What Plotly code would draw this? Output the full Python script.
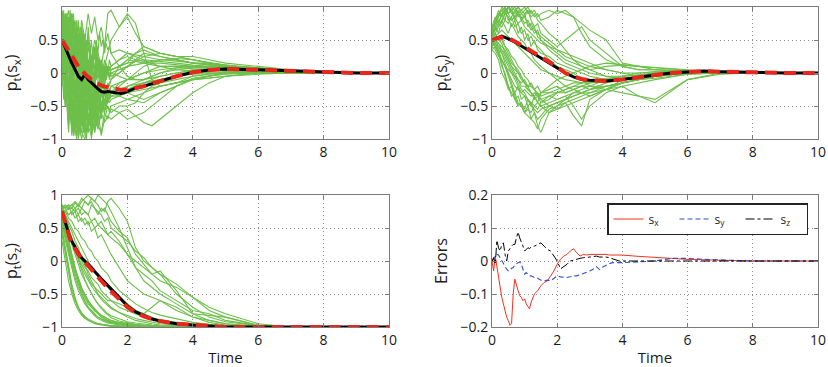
import plotly.graph_objects as go

# ---------------- data ----------------
# coarse time grid for the sample trajectories
T_green = [0, 0.1, 0.2, 0.3, 0.4, 0.5, 0.6, 0.7, 0.8, 0.9, 1.0, 1.1, 1.2, 1.3, 1.4, 1.5,
           1.75, 2, 2.25, 2.5, 2.75, 3, 3.5, 4, 4.5, 5, 6, 7, 8, 10]
# fine time grid (noisy early phase) for extra s_x trajectories
T_fine = [0, 0.05, 0.1, 0.15, 0.2, 0.25, 0.3, 0.35, 0.4, 0.45, 0.5, 0.55, 0.6, 0.65, 0.7, 0.75,
          0.8, 0.85, 0.9, 0.95, 1.0, 1.05, 1.1, 1.15, 1.2, 1.25, 1.3, 1.35, 1.4, 1.45, 1.5,
          1.75, 2, 2.5, 3, 3.5, 4, 5, 6, 8, 10]

green_sx = [
    [0.9, 0.7, 0.95, 0.5, 0.2, 0.6, 0.1, -0.3, 0.2, -0.1, -0.4, -0.2, -0.5, -0.3, -0.45, -0.3, -0.35, -0.25, -0.2, -0.15, -0.1, -0.05, 0.0, 0.05, 0.06, 0.05, 0.03, 0.01, 0.0, 0.0],
    [0.5, 0.1, -0.4, -0.8, -0.5, -0.95, -0.6, -0.9, -0.7, -0.5, -0.6, -0.4, -0.45, -0.55, -0.4, -0.35, -0.3, -0.2, -0.15, -0.1, -0.05, 0.0, 0.08, 0.1, 0.1, 0.08, 0.05, 0.02, 0.0, 0.0],
    [0.3, 0.6, 0.2, 0.5, 0.8, 0.4, 0.7, 0.3, 0.6, 0.2, 0.5, 0.3, 0.1, 0.4, 0.9, 0.95, 0.7, 0.85, 0.6, 0.4, 0.35, 0.3, 0.25, 0.2, 0.15, 0.1, 0.05, 0.02, 0.0, 0.0],
    [0.1, -0.3, -0.6, -0.2, -0.7, -0.4, -0.9, -1.0, -0.8, -0.95, -0.7, -0.85, -0.6, -0.75, -0.65, -0.7, -0.6, -0.55, -0.65, -0.75, -0.8, -0.7, -0.5, -0.3, -0.15, -0.05, 0.0, 0.0, 0.0, 0.0],
    [0.7, 0.9, 0.4, 0.8, 0.3, -0.2, 0.3, -0.4, 0.0, -0.6, -0.2, -0.7, -0.3, -0.5, -0.2, -0.1, 0.1, 0.2, 0.3, 0.35, 0.3, 0.25, 0.2, 0.15, 0.15, 0.12, 0.08, 0.03, 0.01, 0.0],
    [0.6, 0.2, 0.7, -0.1, 0.5, -0.5, 0.1, -0.8, -0.3, -1.0, -0.5, -0.8, -0.9, -0.6, -0.7, -0.5, -0.45, -0.4, -0.35, -0.3, -0.25, -0.2, -0.15, -0.1, -0.08, -0.05, -0.02, 0.0, 0.0, 0.0],
    [0.2, -0.2, 0.3, -0.5, -0.1, -0.7, -0.3, 0.1, -0.5, 0.2, -0.2, 0.1, -0.1, 0.2, 0.0, 0.1, 0.2, 0.25, 0.2, 0.18, 0.15, 0.15, 0.12, 0.1, 0.08, 0.06, 0.03, 0.01, 0.0, 0.0],
    [0.8, 0.5, 0.0, 0.4, -0.4, -0.1, -0.6, -0.2, -0.9, -0.4, -0.7, -0.3, -0.6, -0.25, -0.35, -0.3, -0.2, -0.1, 0.0, 0.1, 0.15, 0.2, 0.22, 0.2, 0.15, 0.12, 0.06, 0.03, 0.01, 0.0],
    [0.4, 0.8, 0.6, 0.9, 0.7, 0.3, 0.8, 0.5, 0.9, 0.6, 0.85, 0.5, 0.7, 0.4, 0.6, 0.3, 0.1, -0.05, -0.1, -0.1, -0.05, 0.0, 0.05, 0.08, 0.1, 0.1, 0.08, 0.04, 0.01, 0.0],
    [0.0, -0.5, -0.2, -0.9, -0.6, -0.3, -0.8, -0.5, -0.2, -0.7, -0.9, -0.6, -0.95, -0.7, -0.5, -0.6, -0.5, -0.5, -0.45, -0.3, -0.2, -0.15, -0.1, -0.05, -0.02, 0.0, 0.0, 0.0, 0.0, 0.0],
    [0.95, 0.6, 0.3, 0.0, 0.35, 0.1, -0.3, 0.0, 0.4, 0.1, -0.1, 0.2, 0.0, 0.1, 0.3, 0.5, 0.7, 0.9, 0.75, 0.3, -0.1, -0.2, -0.15, -0.1, -0.05, 0.0, 0.02, 0.01, 0.0, 0.0],
    [0.5, 0.3, -0.1, -0.4, -0.3, -0.6, -0.2, -0.5, -0.1, -0.4, -0.3, -0.2, -0.35, -0.25, -0.3, -0.2, -0.25, -0.3, -0.35, -0.4, -0.35, -0.3, -0.2, -0.1, -0.05, -0.02, 0.0, 0.0, 0.0, 0.0],
    [0.6, 0.4, 0.5, 0.2, 0.6, 0.3, 0.7, 0.2, 0.5, 0.0, 0.3, -0.1, 0.2, 0.0, 0.1, 0.05, 0.1, 0.15, 0.3, 0.4, 0.35, 0.3, 0.25, 0.25, 0.2, 0.15, 0.1, 0.05, 0.02, 0.0],
    [0.3, 0.0, -0.3, -0.6, -0.9, -0.7, -1.0, -0.75, -0.5, -0.8, -0.55, -0.4, -0.5, -0.3, -0.4, -0.3, -0.15, -0.1, -0.05, 0.0, 0.05, 0.1, 0.1, 0.1, 0.08, 0.06, 0.04, 0.02, 0.0, 0.0],
]

green_sx_fine = [
    [0.9, 0.6, 0.8, 0.3, 0.7, 0.1, 0.5, -0.2, 0.3, -0.5, 0.0, -0.7, -0.3, -0.9, -0.5, -1.0, -0.6, -0.8, -0.4, -0.7, -0.3, -0.6, -0.2, -0.5, -0.3, -0.4, -0.2, -0.35, -0.25, -0.3, -0.2,
     -0.15, -0.1, 0.0, 0.05, 0.08, 0.06, 0.04, 0.02, 0.0, 0.0],
    [0.2, 0.5, -0.1, 0.4, -0.4, 0.2, -0.6, 0.0, -0.8, -0.3, -1.0, -0.5, -0.7, -0.2, -0.6, 0.0, -0.4, 0.2, -0.2, 0.3, 0.0, 0.4, 0.1, 0.2, -0.1, 0.1, -0.2, 0.0, 0.1, -0.05, 0.05,
     0.1, 0.15, 0.2, 0.18, 0.15, 0.12, 0.08, 0.04, 0.01, 0.0],
    [0.7, 0.95, 0.5, 0.9, 0.6, 0.95, 0.4, 0.8, 0.2, 0.6, 0.0, 0.5, -0.2, 0.3, -0.4, 0.1, -0.5, -0.1, -0.6, -0.3, -0.7, -0.4, -0.55, -0.35, -0.5, -0.4, -0.3, -0.45, -0.35, -0.4, -0.3,
     -0.3, -0.25, -0.15, -0.1, -0.05, 0.0, 0.02, 0.01, 0.0, 0.0],
    [0.4, 0.0, 0.6, -0.3, 0.3, -0.6, 0.1, -0.9, -0.2, -0.7, 0.2, -0.4, 0.5, -0.1, 0.6, 0.2, 0.7, 0.3, 0.5, 0.1, 0.4, 0.0, 0.3, -0.1, 0.2, -0.2, 0.1, -0.1, 0.0, -0.05, 0.0,
     0.05, 0.1, 0.15, 0.2, 0.18, 0.15, 0.1, 0.06, 0.02, 0.0],
    [0.6, 0.3, 0.0, -0.4, -0.1, -0.7, -0.3, -0.95, -0.6, -0.8, -0.4, -0.9, -0.5, -0.3, -0.7, -0.4, -0.8, -0.5, -0.9, -0.6, -0.7, -0.45, -0.6, -0.4, -0.5, -0.3, -0.45, -0.3, -0.35, -0.25, -0.3,
     -0.25, -0.2, -0.15, -0.1, -0.05, -0.02, 0.0, 0.0, 0.0, 0.0],
    [0.8, 0.5, 0.9, 0.6, 0.85, 0.4, 0.7, 0.2, 0.6, 0.3, 0.8, 0.4, 0.6, 0.1, 0.4, -0.1, 0.2, -0.3, 0.0, -0.2, 0.1, -0.1, 0.2, 0.0, 0.15, -0.05, 0.1, 0.0, 0.05, -0.1, 0.0,
     -0.05, -0.1, -0.1, -0.05, 0.0, 0.03, 0.05, 0.04, 0.02, 0.0],
    [0.1, -0.4, -0.1, -0.6, -0.9, -0.5, -0.8, -0.4, -0.95, -0.7, -0.5, -0.85, -0.6, -0.9, -0.7, -0.55, -0.75, -0.6, -0.8, -0.65, -0.55, -0.7, -0.5, -0.6, -0.45, -0.55, -0.4, -0.5, -0.45, -0.4, -0.35,
     -0.35, -0.4, -0.45, -0.3, -0.2, -0.1, -0.05, 0.0, 0.0, 0.0],
    [0.5, 0.8, 0.3, 0.0, 0.5, 0.2, -0.2, 0.3, 0.0, 0.4, 0.1, 0.6, 0.2, 0.5, 0.0, 0.3, -0.2, 0.1, -0.4, -0.1, -0.5, -0.2, -0.4, -0.1, -0.3, 0.0, -0.2, 0.1, 0.0, 0.2, 0.1,
     0.2, 0.3, 0.25, 0.2, 0.2, 0.15, 0.1, 0.05, 0.02, 0.0],
    [0.3, 0.7, 0.2, 0.9, 0.4, -0.1, 0.5, 0.0, -0.5, 0.1, -0.3, 0.3, -0.6, -0.1, -0.8, -0.4, -0.9, -0.6, -0.3, -0.7, -0.5, -0.8, -0.6, -0.7, -0.5, -0.6, -0.45, -0.55, -0.5, -0.6, -0.55,
     -0.6, -0.7, -0.6, -0.4, -0.2, -0.08, 0.0, 0.0, 0.0, 0.0],
    [0.85, 0.5, 0.1, 0.6, 0.2, 0.7, 0.3, 0.9, 0.5, 0.8, 0.4, 0.7, 0.3, 0.6, 0.2, 0.5, 0.0, 0.4, -0.2, 0.2, -0.1, 0.3, 0.0, 0.2, -0.15, 0.1, -0.1, 0.15, 0.0, 0.1, -0.05,
     0.0, 0.1, 0.3, 0.25, 0.2, 0.15, 0.1, 0.05, 0.01, 0.0],
    [-0.2, 0.3, -0.5, 0.0, -0.8, -0.3, -0.95, -0.5, -0.2, -0.7, -0.4, -0.95, -0.6, -0.8, -0.3, -0.7, -0.2, -0.6, -0.1, -0.5, 0.0, -0.4, -0.1, -0.3, 0.1, -0.2, 0.0, -0.1, 0.1, -0.05, 0.05,
     0.1, 0.2, 0.15, 0.1, 0.1, 0.08, 0.06, 0.03, 0.0, 0.0],
    [0.6, 0.9, 0.7, 0.4, 0.8, 0.5, 0.9, 0.6, 0.3, 0.7, 0.2, 0.5, 0.0, 0.4, -0.3, 0.1, -0.5, -0.2, -0.7, -0.4, -0.9, -0.6, -0.8, -0.5, -0.7, -0.4, -0.6, -0.5, -0.4, -0.45, -0.4,
     -0.35, -0.3, -0.25, -0.2, -0.15, -0.05, 0.02, 0.02, 0.0, 0.0],
    [0.45, 0.1, -0.3, 0.2, -0.6, -0.2, -0.9, -0.4, -0.7, -1.0, -0.6, -0.3, -0.8, -0.5, -0.95, -0.7, -0.4, -0.6, -0.3, -0.5, -0.2, -0.4, -0.15, -0.3, -0.1, -0.25, -0.2, -0.3, -0.15, -0.2, -0.1,
     0.0, 0.1, 0.25, 0.3, 0.25, 0.2, 0.12, 0.06, 0.01, 0.0],
    [0.75, 0.4, 0.8, 0.5, 0.1, 0.5, -0.2, 0.2, -0.4, 0.0, -0.6, -0.2, -0.5, 0.0, -0.3, 0.2, -0.1, 0.3, 0.1, 0.4, 0.2, 0.5, 0.3, 0.6, 0.4, 0.5, 0.3, 0.45, 0.35, 0.4, 0.3,
     0.35, 0.3, 0.2, 0.1, 0.05, 0.03, 0.05, 0.03, 0.01, 0.0],
]

green_sy = [
    [0.5, 0.6, 0.7, 0.8, 0.9, 1.0, 0.95, 1.0, 0.9, 0.95, 1.0, 0.9, 0.95, 0.85, 0.9, 0.8, 0.85, 0.95, 0.9, 0.85, 0.6, 0.4, 0.2, 0.1, 0.05, 0.05, 0.03, 0.01, 0.0, 0.0],
    [0.5, 0.4, 0.3, 0.1, 0.0, -0.2, -0.3, -0.4, -0.5, -0.45, -0.6, -0.5, -0.7, -0.6, -0.8, -0.9, -0.6, -0.5, -0.4, -0.3, -0.25, -0.2, -0.1, -0.05, 0.0, 0.02, 0.02, 0.01, 0.0, 0.0],
    [0.6, 0.7, 0.8, 0.75, 0.9, 0.85, 0.7, 0.8, 0.6, 0.7, 0.5, 0.6, 0.4, 0.5, 0.35, 0.3, 0.25, 0.15, 0.1, 0.05, 0.0, -0.05, -0.1, -0.1, -0.08, -0.05, 0.0, 0.01, 0.0, 0.0],
    [0.4, 0.5, 0.4, 0.3, 0.2, 0.1, 0.0, -0.1, -0.2, -0.3, -0.35, -0.4, -0.45, -0.5, -0.45, -0.5, -0.45, -0.4, -0.35, -0.5, -0.7, -0.5, -0.3, -0.2, -0.35, -0.4, -0.1, 0.0, 0.0, 0.0],
    [0.55, 0.65, 0.75, 0.9, 0.8, 1.0, 0.9, 0.85, 0.95, 0.8, 0.9, 0.7, 0.75, 0.65, 0.6, 0.55, 0.45, 0.35, 0.25, 0.2, 0.15, 0.1, 0.05, 0.0, 0.0, 0.02, 0.03, 0.02, 0.0, 0.0],
    [0.5, 0.45, 0.35, 0.2, 0.1, 0.0, -0.1, -0.2, -0.25, -0.3, -0.25, -0.3, -0.35, -0.3, -0.35, -0.3, -0.3, -0.25, -0.2, -0.15, -0.15, -0.1, -0.08, -0.05, -0.03, 0.0, 0.02, 0.01, 0.0, 0.0],
    [0.6, 0.7, 0.85, 1.0, 0.95, 0.9, 1.0, 0.95, 0.85, 0.9, 0.95, 1.0, 0.9, 0.95, 0.85, 0.9, 0.95, 0.9, 0.95, 0.85, 0.75, 0.65, 0.5, 0.15, 0.1, 0.05, 0.03, 0.01, 0.0, 0.0],
    [0.45, 0.4, 0.3, 0.15, -0.05, -0.2, -0.35, -0.3, -0.45, -0.5, -0.6, -0.55, -0.6, -0.5, -0.55, -0.45, -0.4, -0.3, -0.25, -0.2, -0.15, -0.12, -0.1, -0.08, -0.05, -0.03, 0.0, 0.0, 0.0, 0.0],
    [0.5, 0.55, 0.6, 0.65, 0.6, 0.55, 0.5, 0.45, 0.4, 0.35, 0.3, 0.25, 0.2, 0.15, 0.1, 0.05, 0.0, -0.05, -0.1, -0.12, -0.15, -0.15, -0.12, -0.1, -0.08, -0.05, 0.0, 0.01, 0.0, 0.0],
    [0.65, 0.8, 0.9, 0.85, 0.95, 0.8, 0.85, 0.7, 0.75, 0.6, 0.65, 0.5, 0.55, 0.45, 0.4, 0.35, 0.2, 0.1, 0.05, 0.0, -0.1, -0.2, -0.2, -0.15, -0.1, -0.05, 0.0, 0.01, 0.0, 0.0],
    [0.35, 0.3, 0.2, 0.0, -0.1, -0.25, -0.2, -0.4, -0.35, -0.5, -0.6, -0.65, -0.7, -0.75, -0.85, -0.7, -0.55, -0.5, -0.45, -0.65, -0.8, -0.4, -0.25, -0.1, -0.05, 0.0, 0.02, 0.01, 0.0, 0.0],
    [0.5, 0.6, 0.5, 0.45, 0.3, 0.2, 0.1, 0.05, 0.0, -0.1, -0.15, -0.2, -0.2, -0.25, -0.3, -0.35, -0.3, -0.3, -0.3, -0.25, -0.2, -0.2, -0.25, -0.3, -0.35, -0.45, -0.1, -0.02, 0.0, 0.0],
    [0.7, 0.75, 0.9, 0.95, 1.0, 0.9, 0.95, 0.8, 0.9, 0.85, 0.75, 0.8, 0.7, 0.6, 0.65, 0.5, 0.4, 0.3, 0.2, 0.15, 0.1, 0.05, 0.1, 0.12, 0.1, 0.08, 0.05, 0.02, 0.0, 0.0],
    [0.4, 0.35, 0.25, 0.2, 0.1, 0.05, 0.0, -0.05, -0.1, -0.2, -0.2, -0.25, -0.3, -0.4, -0.35, -0.45, -0.35, -0.4, -0.35, -0.3, -0.3, -0.35, -0.25, -0.15, -0.1, -0.05, 0.0, 0.0, 0.0, 0.0],
    [0.55, 0.7, 0.6, 0.8, 0.7, 0.6, 0.75, 0.65, 0.55, 0.5, 0.45, 0.35, 0.3, 0.2, 0.15, 0.1, 0.0, -0.1, -0.2, -0.25, -0.3, -0.3, -0.25, -0.15, -0.1, -0.05, 0.0, 0.01, 0.0, 0.0],
    [0.45, 0.5, 0.45, 0.35, 0.25, 0.15, 0.05, -0.05, -0.15, -0.25, -0.3, -0.4, -0.5, -0.55, -0.6, -0.55, -0.5, -0.45, -0.4, -0.35, -0.3, -0.25, -0.15, -0.1, -0.05, -0.02, 0.01, 0.01, 0.0, 0.0],
    [0.6, 0.8, 0.95, 0.85, 1.0, 0.9, 0.8, 0.85, 0.75, 0.8, 0.7, 0.65, 0.6, 0.55, 0.5, 0.45, 0.4, 0.35, 0.3, 0.25, 0.2, 0.15, 0.05, 0.0, -0.05, -0.03, 0.0, 0.01, 0.0, 0.0],
    [0.5, 0.45, 0.4, 0.35, 0.3, 0.2, 0.1, 0.0, -0.1, -0.15, -0.1, -0.2, -0.15, -0.25, -0.2, -0.3, -0.25, -0.2, -0.3, -0.25, -0.2, -0.25, -0.2, -0.15, -0.1, -0.08, -0.02, 0.0, 0.0, 0.0],
    [0.7, 0.85, 0.75, 0.9, 0.95, 1.0, 0.95, 0.9, 1.0, 0.9, 0.85, 0.95, 0.8, 0.7, 0.75, 0.6, 0.5, 0.4, 0.5, 0.6, 0.7, 0.5, 0.3, 0.1, 0.05, 0.05, 0.03, 0.01, 0.0, 0.0],
    [0.4, 0.45, 0.35, 0.3, 0.15, 0.0, -0.15, -0.3, -0.2, -0.4, -0.35, -0.5, -0.45, -0.6, -0.7, -0.65, -0.5, -0.55, -0.45, -0.4, -0.35, -0.3, -0.2, -0.15, -0.1, -0.05, 0.0, 0.0, 0.0, 0.0],
    [0.55, 0.6, 0.5, 0.55, 0.4, 0.35, 0.25, 0.2, 0.1, 0.05, -0.05, -0.1, -0.2, -0.25, -0.35, -0.4, -0.5, -0.45, -0.4, -0.35, -0.3, -0.25, -0.2, -0.15, -0.1, -0.05, 0.0, 0.0, 0.0, 0.0],
    [0.65, 0.75, 0.85, 0.95, 0.9, 1.0, 0.95, 0.85, 0.9, 0.8, 0.85, 0.75, 0.65, 0.7, 0.55, 0.5, 0.35, 0.25, 0.15, 0.1, 0.05, 0.0, -0.05, -0.05, -0.03, 0.0, 0.02, 0.01, 0.0, 0.0],
    [0.45, 0.5, 0.55, 0.5, 0.4, 0.3, 0.2, 0.1, 0.05, -0.05, -0.15, -0.2, -0.3, -0.35, -0.45, -0.5, -0.6, -0.55, -0.5, -0.45, -0.4, -0.35, -0.25, -0.2, -0.15, -0.1, -0.02, 0.0, 0.0, 0.0],
    [0.6, 0.65, 0.75, 0.7, 0.8, 0.75, 0.85, 0.95, 1.0, 0.95, 0.9, 0.95, 0.85, 0.9, 0.8, 0.75, 0.6, 0.5, 0.35, 0.2, 0.1, 0.05, -0.05, -0.08, -0.05, -0.02, 0.01, 0.01, 0.0, 0.0],
    [0.5, 0.5, 0.45, 0.4, 0.35, 0.25, 0.15, 0.1, 0.0, -0.05, -0.15, -0.25, -0.3, -0.35, -0.3, -0.4, -0.35, -0.3, -0.25, -0.2, -0.2, -0.15, -0.12, -0.1, -0.08, -0.05, 0.0, 0.0, 0.0, 0.0],
    [0.35, 0.4, 0.3, 0.2, 0.1, -0.05, -0.2, -0.35, -0.5, -0.45, -0.55, -0.4, -0.5, -0.35, -0.45, -0.3, -0.2, -0.1, -0.05, 0.0, 0.05, 0.1, 0.15, 0.12, 0.1, 0.08, 0.04, 0.02, 0.0, 0.0],
]

green_sz = [
    [0.8, 0.85, 0.8, 0.85, 0.8, 0.85, 0.8, 0.9, 0.85, 0.95, 0.9, 1.0, 0.95, 0.9, 0.85, 0.75, 0.5, 0.2, -0.1, -0.3, -0.4, -0.5, -0.65, -0.8, -0.9, -0.95, -1.0, -1.0, -1.0, -1.0],
    [0.7, 0.5, 0.3, 0.1, -0.1, -0.3, -0.45, -0.55, -0.65, -0.7, -0.75, -0.8, -0.85, -0.88, -0.9, -0.92, -0.95, -0.97, -0.98, -0.99, -1.0, -1.0, -1.0, -1.0, -1.0, -1.0, -1.0, -1.0, -1.0, -1.0],
    [0.8, 0.75, 0.7, 0.75, 0.8, 0.7, 0.8, 0.75, 0.7, 0.85, 0.8, 0.7, 0.8, 0.75, 0.9, 0.95, 0.8, 0.6, 0.2, 0.0, -0.1, -0.2, -0.5, -0.7, -0.85, -0.92, -0.98, -1.0, -1.0, -1.0],
    [0.6, 0.4, 0.2, 0.0, -0.2, -0.35, -0.5, -0.6, -0.7, -0.75, -0.8, -0.85, -0.88, -0.9, -0.92, -0.93, -0.95, -0.97, -0.98, -0.99, -1.0, -1.0, -1.0, -1.0, -1.0, -1.0, -1.0, -1.0, -1.0, -1.0],
    [0.75, 0.7, 0.6, 0.5, 0.4, 0.3, 0.2, 0.1, 0.0, -0.1, -0.15, -0.2, -0.3, -0.35, -0.4, -0.45, -0.55, -0.65, -0.75, -0.8, -0.85, -0.9, -0.95, -0.97, -0.99, -1.0, -1.0, -1.0, -1.0, -1.0],
    [0.85, 0.8, 0.7, 0.75, 0.65, 0.7, 0.6, 0.65, 0.55, 0.6, 0.5, 0.55, 0.5, 0.45, 0.4, 0.35, 0.25, 0.1, 0.0, -0.1, -0.2, -0.15, -0.45, -0.8, -0.82, -0.85, -0.98, -1.0, -1.0, -1.0],
    [0.5, 0.2, -0.1, -0.35, -0.55, -0.7, -0.8, -0.85, -0.9, -0.92, -0.94, -0.95, -0.96, -0.97, -0.97, -0.98, -0.98, -0.99, -1.0, -1.0, -1.0, -1.0, -1.0, -1.0, -1.0, -1.0, -1.0, -1.0, -1.0, -1.0],
    [0.8, 0.7, 0.55, 0.45, 0.3, 0.2, 0.05, -0.05, -0.2, -0.3, -0.4, -0.5, -0.55, -0.6, -0.65, -0.7, -0.78, -0.85, -0.9, -0.93, -0.95, -0.97, -0.98, -0.99, -1.0, -1.0, -1.0, -1.0, -1.0, -1.0],
    [0.7, 0.75, 0.8, 0.85, 0.9, 0.85, 0.95, 0.9, 0.85, 0.9, 0.8, 0.75, 0.7, 0.6, 0.65, 0.5, 0.4, 0.3, 0.15, 0.05, -0.1, -0.2, -0.35, -0.55, -0.75, -0.85, -0.97, -1.0, -1.0, -1.0],
    [0.4, 0.1, -0.2, -0.45, -0.6, -0.72, -0.8, -0.86, -0.9, -0.93, -0.95, -0.96, -0.97, -0.98, -0.98, -0.99, -0.99, -1.0, -1.0, -1.0, -1.0, -1.0, -1.0, -1.0, -1.0, -1.0, -1.0, -1.0, -1.0, -1.0],
    [0.65, 0.55, 0.45, 0.3, 0.2, 0.05, -0.05, -0.15, -0.25, -0.35, -0.4, -0.45, -0.5, -0.55, -0.6, -0.6, -0.65, -0.7, -0.75, -0.8, -0.7, -0.6, -0.7, -0.85, -0.9, -0.95, -0.99, -1.0, -1.0, -1.0],
    [0.85, 0.8, 0.85, 0.7, 0.75, 0.6, 0.65, 0.55, 0.6, 0.45, 0.5, 0.35, 0.4, 0.3, 0.2, 0.1, -0.1, -0.3, -0.4, -0.5, -0.55, -0.6, -0.75, -0.85, -0.93, -0.97, -1.0, -1.0, -1.0, -1.0],
    [0.55, 0.3, 0.1, -0.1, -0.3, -0.45, -0.55, -0.65, -0.72, -0.78, -0.83, -0.87, -0.9, -0.92, -0.94, -0.95, -0.97, -0.98, -0.99, -1.0, -1.0, -1.0, -1.0, -1.0, -1.0, -1.0, -1.0, -1.0, -1.0, -1.0],
    [0.8, 0.6, 0.5, 0.3, 0.25, 0.1, 0.0, -0.1, -0.15, -0.25, -0.3, -0.35, -0.45, -0.5, -0.55, -0.6, -0.7, -0.75, -0.8, -0.85, -0.88, -0.9, -0.93, -0.96, -0.98, -0.99, -1.0, -1.0, -1.0, -1.0],
    [0.8, 0.55, 0.3, 0.1, -0.1, -0.25, -0.4, -0.5, -0.6, -0.67, -0.73, -0.78, -0.82, -0.85, -0.88, -0.9, -0.93, -0.95, -0.97, -0.98, -0.99, -1.0, -1.0, -1.0, -1.0, -1.0, -1.0, -1.0, -1.0, -1.0],
    [0.75, 0.6, 0.4, 0.25, 0.1, -0.05, -0.2, -0.3, -0.4, -0.5, -0.58, -0.65, -0.7, -0.75, -0.8, -0.83, -0.88, -0.92, -0.94, -0.96, -0.97, -0.98, -0.99, -1.0, -1.0, -1.0, -1.0, -1.0, -1.0, -1.0],
    [0.3, 0.0, -0.3, -0.5, -0.65, -0.75, -0.82, -0.87, -0.9, -0.92, -0.94, -0.95, -0.96, -0.97, -0.98, -0.98, -0.99, -0.99, -1.0, -1.0, -1.0, -1.0, -1.0, -1.0, -1.0, -1.0, -1.0, -1.0, -1.0, -1.0],
    [0.85, 0.7, 0.5, 0.35, 0.2, 0.05, -0.1, -0.2, -0.3, -0.38, -0.45, -0.52, -0.58, -0.63, -0.68, -0.72, -0.78, -0.83, -0.87, -0.9, -0.93, -0.95, -0.97, -0.98, -0.99, -1.0, -1.0, -1.0, -1.0, -1.0],
    [0.8, 0.82, 0.78, 0.8, 0.75, 0.8, 0.7, 0.75, 0.7, 0.6, 0.65, 0.55, 0.6, 0.5, 0.4, 0.45, 0.3, 0.1, -0.1, -0.2, -0.3, -0.45, -0.6, -0.75, -0.8, -0.9, -0.98, -1.0, -1.0, -1.0],
    [0.65, 0.4, 0.2, 0.0, -0.15, -0.3, -0.42, -0.52, -0.6, -0.67, -0.73, -0.78, -0.82, -0.85, -0.88, -0.9, -0.94, -0.96, -0.97, -0.98, -0.99, -1.0, -1.0, -1.0, -1.0, -1.0, -1.0, -1.0, -1.0, -1.0],
    [0.7, 0.45, 0.25, 0.05, -0.15, -0.3, -0.45, -0.55, -0.63, -0.7, -0.76, -0.8, -0.84, -0.87, -0.9, -0.92, -0.95, -0.97, -0.98, -0.99, -1.0, -1.0, -1.0, -1.0, -1.0, -1.0, -1.0, -1.0, -1.0, -1.0],
    [0.85, 0.65, 0.45, 0.3, 0.15, 0.0, -0.15, -0.28, -0.4, -0.5, -0.58, -0.65, -0.72, -0.77, -0.82, -0.86, -0.91, -0.94, -0.96, -0.97, -0.98, -0.99, -1.0, -1.0, -1.0, -1.0, -1.0, -1.0, -1.0, -1.0],
    [0.45, 0.15, -0.15, -0.4, -0.58, -0.7, -0.78, -0.84, -0.88, -0.91, -0.93, -0.95, -0.96, -0.97, -0.98, -0.98, -0.99, -1.0, -1.0, -1.0, -1.0, -1.0, -1.0, -1.0, -1.0, -1.0, -1.0, -1.0, -1.0, -1.0],
    [0.8, 0.75, 0.65, 0.6, 0.5, 0.45, 0.35, 0.3, 0.2, 0.15, 0.05, 0.0, -0.1, -0.15, -0.2, -0.3, -0.45, -0.55, -0.65, -0.72, -0.78, -0.82, -0.88, -0.93, -0.96, -0.98, -1.0, -1.0, -1.0, -1.0],
    [0.6, 0.35, 0.15, -0.05, -0.25, -0.4, -0.52, -0.62, -0.7, -0.76, -0.81, -0.85, -0.88, -0.91, -0.93, -0.94, -0.96, -0.98, -0.99, -1.0, -1.0, -1.0, -1.0, -1.0, -1.0, -1.0, -1.0, -1.0, -1.0, -1.0],
    [0.82, 0.8, 0.85, 0.8, 0.88, 0.82, 0.9, 0.95, 1.0, 0.95, 0.9, 0.85, 0.75, 0.8, 0.7, 0.6, 0.45, 0.35, 0.1, -0.05, -0.2, -0.3, -0.4, -0.55, -0.7, -0.8, -0.95, -1.0, -1.0, -1.0],
]

# empirical mean (black)
T_mean = [0, 0.1, 0.2, 0.3, 0.4, 0.5, 0.6, 0.7, 0.8, 0.9, 1.0, 1.1, 1.2, 1.3, 1.4, 1.5, 1.6, 1.7, 1.8, 1.9, 2.0,
          2.25, 2.5, 2.75, 3, 3.5, 4, 4.5, 5, 5.5, 6, 6.5, 7, 7.5, 8, 9, 10]
mean_sx = [0.5, 0.38, 0.26, 0.15, 0.05, -0.05, -0.1, -0.02, -0.1, -0.15, -0.2, -0.24, -0.28, -0.29, -0.28, -0.29, -0.3, -0.3, -0.31, -0.3, -0.28,
           -0.23, -0.2, -0.16, -0.12, -0.05, 0.01, 0.045, 0.06, 0.06, 0.05, 0.04, 0.03, 0.02, 0.01, 0.0, 0.0]
mean_sy = [0.5, 0.52, 0.55, 0.56, 0.54, 0.52, 0.49, 0.47, 0.44, 0.41, 0.38, 0.35, 0.31, 0.28, 0.26, 0.23, 0.19, 0.16, 0.13, 0.1, 0.07,
           0.0, -0.06, -0.1, -0.11, -0.12, -0.1, -0.06, -0.03, 0.0, 0.02, 0.03, 0.02, 0.02, 0.01, 0.0, 0.0]
mean_sz = [0.75, 0.58, 0.42, 0.3, 0.2, 0.12, 0.05, 0.0, -0.04, -0.1, -0.16, -0.22, -0.27, -0.32, -0.37, -0.42, -0.47, -0.52, -0.58, -0.63, -0.68,
           -0.77, -0.83, -0.88, -0.91, -0.95, -0.97, -0.99, -1.0, -1.0, -1.0, -1.0, -1.0, -1.0, -1.0, -1.0, -1.0]

# exact solution (red dashed)
T_exact = [0, 0.25, 0.5, 0.75, 1, 1.25, 1.5, 1.75, 2, 2.25, 2.5, 2.75, 3, 3.5, 4, 4.5, 5, 5.5, 6, 6.5, 7, 7.5, 8, 9, 10]
exact_sx = [0.5, 0.3, 0.1, -0.04, -0.14, -0.2, -0.23, -0.25, -0.255, -0.235, -0.2, -0.16, -0.12, -0.05, 0.01, 0.045, 0.06, 0.06, 0.05, 0.04, 0.03, 0.02, 0.01, 0.0, 0.0]
exact_sy = [0.5, 0.54, 0.53, 0.47, 0.4, 0.32, 0.25, 0.17, 0.09, 0.0, -0.05, -0.09, -0.11, -0.12, -0.1, -0.06, -0.03, 0.0, 0.02, 0.03, 0.02, 0.02, 0.01, 0.0, 0.0]
exact_sz = [0.75, 0.33, 0.1, -0.05, -0.2, -0.33, -0.46, -0.58, -0.7, -0.78, -0.84, -0.88, -0.91, -0.95, -0.97, -0.99, -1.0, -1.0, -1.0, -1.0, -1.0, -1.0, -1.0, -1.0, -1.0]

# errors
T_err = [0, 0.05, 0.1, 0.15, 0.2, 0.25, 0.3, 0.35, 0.4, 0.45, 0.5, 0.55, 0.6, 0.65, 0.7, 0.75, 0.8, 0.85, 0.9, 0.95, 1.0, 1.05, 1.1, 1.15, 1.2,
         1.3, 1.4, 1.5, 1.6, 1.7, 1.8, 1.9, 2.0, 2.1, 2.2, 2.3, 2.4, 2.5, 2.6, 2.7, 2.8, 2.9, 3.0, 3.1, 3.2, 3.3, 3.4, 3.5, 3.6, 3.7, 3.8, 3.9, 4.0,
         4.5, 5, 5.5, 6, 6.5, 7, 7.5, 8, 8.5, 9, 9.5, 10]
err_sx = [0.0, -0.03, 0.015, -0.02, -0.05, -0.08, -0.11, -0.13, -0.155, -0.17, -0.18, -0.195, -0.19, -0.1, -0.055, -0.075, -0.09, -0.105, -0.11, -0.12, -0.115, -0.13, -0.14, -0.145, -0.125,
          -0.1, -0.09, -0.075, -0.065, -0.06, -0.045, -0.03, -0.01, 0.005, 0.015, 0.02, 0.03, 0.037, 0.025, 0.015, 0.02, 0.018, 0.02, 0.02, 0.022, 0.02, 0.022, 0.02, 0.018, 0.018, 0.02, 0.018, 0.018,
          0.014, 0.01, 0.008, 0.005, 0.003, 0.002, 0.001, 0.0, 0.0, 0.0, 0.0, 0.0]
err_sy = [0.0, 0.01, 0.015, 0.02, 0.018, 0.01, 0.0, -0.008, -0.015, -0.025, -0.03, -0.028, -0.022, -0.02, -0.012, -0.008, -0.005, -0.003, -0.01, -0.025, -0.04, -0.035, -0.04, -0.045, -0.045,
          -0.05, -0.052, -0.058, -0.06, -0.058, -0.06, -0.052, -0.045, -0.048, -0.05, -0.05, -0.048, -0.045, -0.045, -0.042, -0.038, -0.034, -0.03, -0.025, -0.017, -0.026, -0.018, -0.012, -0.008, -0.005, -0.006, -0.005, -0.005,
          -0.002, 0.0, 0.008, 0.008, 0.005, 0.003, 0.002, 0.0, 0.0, 0.0, 0.0, 0.0]
err_sz = [0.0, 0.01, -0.01, 0.063, 0.04, 0.03, 0.05, 0.055, 0.02, 0.0, 0.03, 0.04, 0.045, 0.05, 0.05, 0.07, 0.088, 0.07, 0.06, 0.045, 0.03, 0.035, 0.04, 0.038, 0.042,
          0.045, 0.05, 0.055, 0.045, 0.035, 0.03, 0.015, 0.0, -0.024, -0.018, -0.01, 0.0, 0.003, 0.007, 0.008, 0.01, 0.01, 0.012, 0.013, 0.015, 0.012, 0.013, 0.012, 0.01, 0.006, 0.002, 0.0, 0.0,
          0.0, 0.0, 0.0, 0.0, 0.0, 0.0, 0.0, 0.0, 0.0, 0.0, 0.0, 0.0]

y_labels = ["p<sub>t</sub>(s<sub>x</sub>)", "p<sub>t</sub>(s<sub>y</sub>)", "p<sub>t</sub>(s<sub>z</sub>)", "Errors"]
legend_names = ["s<sub>x</sub>", "s<sub>y</sub>", "s<sub>z</sub>"]

# ---------------- figure ----------------
GREEN = "#6dbf4a"
RED = "#e8261d"
fig = go.Figure()

panels = [([(T_green, g) for g in green_sx] + [(T_fine, g) for g in green_sx_fine], mean_sx, exact_sx, "x", "y"),
          ([(T_green, g) for g in green_sy], mean_sy, exact_sy, "x2", "y2"),
          ([(T_green, g) for g in green_sz], mean_sz, exact_sz, "x3", "y3")]
for greens, mean, exact, xa, ya in panels:
    for tt, g in greens:
        fig.add_trace(go.Scatter(x=tt, y=g, mode="lines", xaxis=xa, yaxis=ya,
                                 line=dict(color=GREEN, width=1.1), showlegend=False, hoverinfo="skip"))
    fig.add_trace(go.Scatter(x=T_mean, y=mean, mode="lines", xaxis=xa, yaxis=ya,
                             line=dict(color="black", width=3), showlegend=False))
    fig.add_trace(go.Scatter(x=T_exact, y=exact, mode="lines", xaxis=xa, yaxis=ya,
                             line=dict(color=RED, width=4, dash="12px,7px"), showlegend=False))

err_styles = [("#f0321e", "solid", 1), ("#3050c8", "5px,3px", 1.1), ("black", "dashdot", 1)]
for vals, name, (col, dash, w) in zip([err_sx, err_sy, err_sz], legend_names, err_styles):
    fig.add_trace(go.Scatter(x=T_err, y=vals, mode="lines", xaxis="x4", yaxis="y4", name=name,
                             line=dict(color=col, width=w, dash=dash)))

W, H = 828, 367
xdom_left = [62 / W, 389 / W]
xdom_right = [492 / W, 818 / W]
ydom_top = [1 - 139 / H, 1 - 7 / H]
ydom_bot = [1 - 327 / H, 1 - 195 / H]

FONT = "Open Sans"
axis_common = dict(showline=True, mirror="ticks", linecolor="#7a7a7a", linewidth=1,
                   ticks="inside", ticklen=4, tickcolor="#7a7a7a",
                   showgrid=True, gridcolor="#8c8c8c", griddash="1px,3px", gridwidth=1,
                   zeroline=False, automargin=False,
                   tickfont=dict(family=FONT, size=14, color="#1a1a1a"))

def xaxis(dom, anchor, title=None):
    d = dict(axis_common, domain=dom, anchor=anchor, range=[0, 10], tickvals=[0, 2, 4, 6, 8, 10])
    if title:
        d["title"] = dict(text=title, font=dict(family=FONT, size=15, color="#1a1a1a"), standoff=5)
    return d

def yaxis(dom, anchor, title, rng, tv):
    return dict(axis_common, domain=dom, anchor=anchor, range=rng, tickvals=tv,
                title=dict(text=title, font=dict(family=FONT, size=16, color="#1a1a1a"), standoff=8))

tv1 = [-1, -0.5, 0, 0.5, 1]
tv4 = [-0.2, -0.1, 0, 0.1, 0.2]
fig.update_layout(
    width=W, height=H,
    margin=dict(l=0, r=0, t=0, b=0, autoexpand=False),
    paper_bgcolor="white", plot_bgcolor="white",
    font=dict(family=FONT, color="#1a1a1a"),
    xaxis=xaxis(xdom_left, "y"),
    yaxis=yaxis(ydom_top, "x", y_labels[0], [-1, 1], tv1),
    xaxis2=xaxis(xdom_right, "y2"),
    yaxis2=yaxis(ydom_top, "x2", y_labels[1], [-1, 1], tv1),
    xaxis3=xaxis(xdom_left, "y3", "Time"),
    yaxis3=yaxis(ydom_bot, "x3", y_labels[2], [-1, 1], tv1),
    xaxis4=xaxis(xdom_right, "y4", "Time"),
    yaxis4=yaxis(ydom_bot, "x4", y_labels[3], [-0.2, 0.2], tv4),
    legend=dict(orientation="h", x=607 / W, y=1 - 203 / H, xanchor="left", yanchor="top",
                bgcolor="white", bordercolor="#222", borderwidth=1.5,
                font=dict(family=FONT, size=12, color="#1a1a1a"),
                entrywidth=21, entrywidthmode="pixels", tracegroupgap=0),
    showlegend=True,
)

fig.write_html("out.html")
